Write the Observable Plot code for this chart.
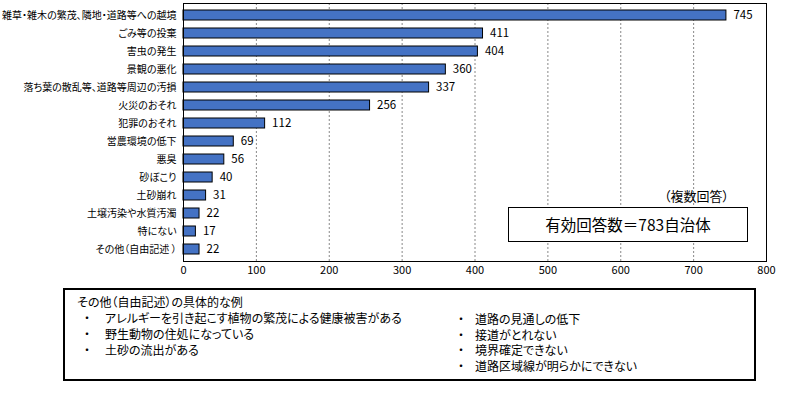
<!DOCTYPE html>
<html><head><meta charset="utf-8">
<script src="https://cdn.jsdelivr.net/npm/d3@7"></script>
<script src="https://cdn.jsdelivr.net/npm/@observablehq/plot@0.6"></script>
<style>
body{margin:0;background:#fff;font-family:"Noto Sans CJK JP","Noto Sans",sans-serif;font-feature-settings:"palt";}
#wrap{position:relative;width:803px;height:396px;}
#wrap svg{position:absolute;left:0;top:0;}
.abs{position:absolute;white-space:nowrap;color:#000;}
</style></head>
<body><div id="wrap"></div>
<script>
const categories = ["雑草・雑木の繁茂、隣地・道路等への越境","ごみ等の投棄","害虫の発生","景観の悪化","落ち葉の散乱等、道路等周辺の汚損","火災のおそれ","犯罪のおそれ","営農環境の低下","悪臭","砂ぼこり","土砂崩れ","土壌汚染や水質汚濁","特にない","その他（自由記述 ）"];
const values = [745,411,404,360,337,256,112,69,56,40,31,22,17,22];
const xTicks = [0,100,200,300,400,500,600,700,800];
const note = "（複数回答）";
const total = "有効回答数＝783自治体";
const otherTitle = "その他（自由記述）の具体的な例";
const otherLeft = ["アレルギーを引き起こす植物の繁茂による健康被害がある","野生動物の住処になっている","土砂の流出がある"];
const otherRight = ["道路の見通しの低下","接道がとれない","境界確定できない","道路区域線が明らかにできない"];

const data = categories.map((c,i)=>({c, v: values[i]}));
const font = '"Noto Sans CJK JP","Noto Sans",sans-serif';

const chart = Plot.plot({
  width: 803, height: 285,
  marginLeft: 183, marginRight: 37, marginTop: 3, marginBottom: 24,
  style: {fontFamily: font, fontSize: "11px", color: "#000", background: "#fff", fontFeatureSettings: '"palt"', overflow: "visible"},
  x: {domain: [0,800], ticks: xTicks, tickSize: 0, tickPadding: 5, label: null, tickFormat: d=>String(d)},
  y: {domain: categories, paddingInner: 0.45, paddingOuter: 0.2, align: 0.5, axis: null, label: null},
  marks: [
    Plot.gridX(xTicks.filter(t=>t>0 && t<800), {stroke: "#888", strokeOpacity: 1, strokeDasharray: "2,2"}),
    Plot.barX(data, {x: "v", y: "c", fill: "#4472C4", stroke: "#000", strokeWidth: 1}),
    Plot.text(data, {x: "v", y: "c", text: d=>String(d.v), textAnchor: "start", dx: 7, fontSize: 11.5, fill: "#000"}),
    Plot.axisY({tickSize: 0, tickPadding: 7, fontSize: 10, label: null, lineWidth: 40}),
    Plot.frame({stroke: "#000", strokeWidth: 1})
  ]
});
const wrap = document.getElementById("wrap");
wrap.appendChild(chart);

function add(text, css){const d=document.createElement("div");d.className="abs";d.textContent=text;Object.assign(d.style,css);wrap.appendChild(d);return d;}
add(note,{left:"664px",top:"187px",fontSize:"13px",lineHeight:"18px"});
add(total,{left:"508px",top:"207px",width:"238px",height:"33px",border:"1.5px solid #000",background:"#fff",fontSize:"15.5px",lineHeight:"33px",textAlign:"center"});
add("",{left:"63px",top:"288px",width:"689px",height:"89px",border:"2px solid #000"});
add(otherTitle,{left:"77px",top:"294px",fontSize:"12px",lineHeight:"16px"});
otherLeft.forEach((t,i)=>{add("・",{left:"84px",top:(310+i*16)+"px",fontSize:"12px",lineHeight:"16px"});add(t,{left:"105px",top:(310+i*16)+"px",fontSize:"12px",lineHeight:"16px"});});
otherRight.forEach((t,i)=>{add("・",{left:"458px",top:(311+i*15.5)+"px",fontSize:"12px",lineHeight:"16px"});add(t,{left:"475px",top:(311+i*15.5)+"px",fontSize:"12px",lineHeight:"16px"});});
</script></body></html>
